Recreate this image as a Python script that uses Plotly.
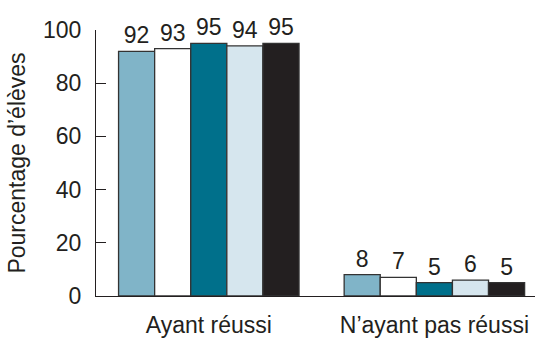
import plotly.graph_objects as go

categories = ["Ayant réussi", "N\u2019ayant pas réussi"]
series_names = ["Série 1", "Série 2", "Série 3", "Série 4", "Série 5"]
series_values = [
    [92, 8],
    [93, 7],
    [95, 5],
    [94, 6],
    [95, 5],
]
series_colors = ["#80b4c8", "#ffffff", "#00708b", "#d6e6ee", "#231f20"]
y_ticks = [0, 20, 40, 60, 80, 100]

FONT = "Liberation Sans, Arial, Helvetica, sans-serif"
TXT = "#231f20"
FS = 23

fig = go.Figure()
for name, vals, col in zip(series_names, series_values, series_colors):
    fig.add_trace(go.Bar(
        x=categories, y=vals, name=name,
        marker=dict(color=col, line=dict(color="#333333", width=1.3)),
        text=[str(v) for v in vals], textposition="outside",
        textfont=dict(family=FONT, size=FS, color=TXT),
        cliponaxis=False,
    ))

fig.update_layout(
    width=538, height=339,
    margin=dict(l=96, r=3, t=30, b=43),
    barmode="group", bargap=0.2, bargroupgap=0,
    plot_bgcolor="white", paper_bgcolor="white",
    showlegend=False,
    font=dict(family=FONT, size=FS, color=TXT),
    uniformtext=dict(mode=False),
)
fig.update_xaxes(
    range=[-0.5, 1.446], showline=True, linecolor="#231f20", linewidth=1.3,
    ticks="", showgrid=False, tickfont=dict(size=FS, color=TXT),
    automargin=False, ticklabelstandoff=8,
)
fig.update_yaxes(
    range=[0, 100], tickvals=y_ticks, showline=True, linecolor="#231f20", linewidth=1.3,
    ticks="inside", ticklen=10, tickwidth=1.3, tickcolor="#231f20",
    showgrid=False, zeroline=False, tickfont=dict(size=FS, color=TXT),
    title=dict(text="Pourcentage d\u2019élèves", font=dict(size=FS, color=TXT), standoff=10),
    ticklabelstandoff=9, automargin=False,
)

fig.write_html(
    "out.html",
    config={"displayModeBar": False},
    post_script="document.body.style.margin='0';document.body.style.padding='0';",
)
